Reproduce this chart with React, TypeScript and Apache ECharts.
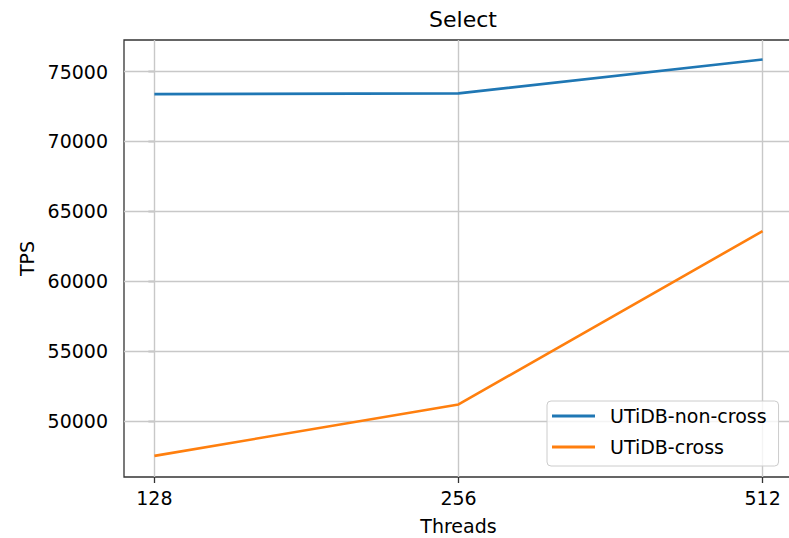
import React, { useEffect, useRef } from "react";
import * as echarts from "echarts";

const categories = ["128", "256", "512"];
const nonCross = [73390, 73440, 75870];
const cross = [47510, 51190, 63590];
const yTicks = [50000, 55000, 60000, 65000, 70000, 75000];
const xTicks = [0, 1, 2];

export default function App() {
  const ref = useRef<HTMLDivElement>(null);
  useEffect(() => {
    if (!ref.current) return;
    const chart = echarts.init(ref.current, null, { renderer: "svg" });
    const font = "DejaVu Sans";
    const gridColor = "#c8c8c8";
    chart.setOption({
      animation: false,
      backgroundColor: "#ffffff",
      textStyle: { fontFamily: font },
      title: {
        text: "Select",
        left: 458,
        top: 3,
        textAlign: "center",
        textStyle: { fontFamily: font, fontSize: 22, fontWeight: "normal", color: "#000" },
      },
      grid: {
        left: 124,
        top: 40,
        width: 669,
        height: 437,
        show: true,
        outerBoundsMode: "none",
        containLabel: false,
        borderColor: "#333",
        borderWidth: 1.3,
        backgroundColor: "transparent",
      },
      legend: {
        orient: "vertical",
        left: 547,
        top: 401,
        padding: [4, 12, 8, 5],
        itemWidth: 43,
        itemHeight: 3,
        itemGap: 9,
        icon: "rect",
        backgroundColor: "rgba(255,255,255,0.8)",
        borderColor: "#cccccc",
        borderWidth: 1,
        borderRadius: 4,
        textStyle: {
          fontFamily: font,
          fontSize: 19,
          color: "#000",
          lineHeight: 22,
          padding: [0, 0, 0, 10],
        },
        data: ["UTiDB-non-cross", "UTiDB-cross"],
      },
      xAxis: {
        type: "value",
        min: -0.1,
        max: 2.1,
        name: "Threads",
        nameLocation: "middle",
        nameGap: 39,
        nameTextStyle: { fontFamily: font, fontSize: 19, color: "#000" },
        axisLine: { show: false },
        axisTick: { show: true, inside: false, length: 6, customValues: xTicks, lineStyle: { color: "#333", width: 1.3 } },
        axisLabel: {
          customValues: xTicks,
          margin: 11,
          fontFamily: font,
          fontSize: 19,
          color: "#000",
          formatter: (v: number) => categories[Math.round(v)] ?? "",
        },
        splitLine: { show: false },
      },
      yAxis: {
        type: "value",
        min: 46000,
        max: 77260,
        name: "TPS",
        nameLocation: "middle",
        nameGap: 84,
        nameTextStyle: { fontFamily: font, fontSize: 19, color: "#000" },
        axisLine: { show: false },
        axisTick: { show: true, inside: false, length: 6, customValues: yTicks, lineStyle: { color: "#333", width: 1.3 } },
        axisLabel: {
          customValues: yTicks,
          margin: 16,
          fontFamily: font,
          fontSize: 19,
          color: "#000",
          formatter: (v: number) => String(v),
        },
        splitLine: { show: false },
      },
      series: [
        {
          name: "UTiDB-non-cross",
          type: "line",
          data: nonCross.map((v, i) => [i, v]),
          showSymbol: false,
          symbol: "none",
          lineStyle: { color: "#1f77b4", width: 2.6 },
          itemStyle: { color: "#1f77b4" },
          z: 3,
          markLine: {
            silent: true,
            symbol: "none",
            label: { show: false },
            lineStyle: { color: gridColor, width: 1.4, type: "solid" },
            animation: false,
            z: 1,
            data: [
              ...yTicks.map((t) => ({ yAxis: t })),
              ...xTicks.map((t) => ({ xAxis: t })),
            ],
          },
        },
        {
          name: "UTiDB-cross",
          type: "line",
          data: cross.map((v, i) => [i, v]),
          showSymbol: false,
          symbol: "none",
          lineStyle: { color: "#ff7f0e", width: 2.6 },
          itemStyle: { color: "#ff7f0e" },
          z: 3,
        },
      ],
    });
    return () => chart.dispose();
  }, []);
  return (
    <div
      ref={ref}
      style={{ position: "fixed", left: 0, top: 0, width: 800, height: 538 }}
    />
  );
}
